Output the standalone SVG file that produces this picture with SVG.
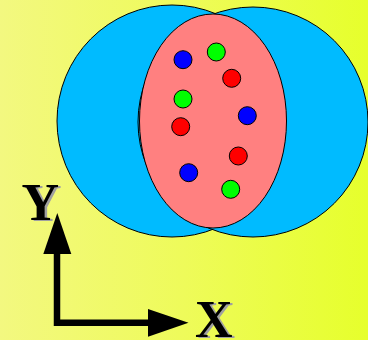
<svg xmlns="http://www.w3.org/2000/svg" width="368" height="340" viewBox="0 0 368 340">
<defs>
<linearGradient id="bg" x1="0" y1="0" x2="1" y2="0">
<stop offset="0" stop-color="#f3f880"/>
<stop offset="0.5" stop-color="#eefb5a"/>
<stop offset="1" stop-color="#e6ff2c"/>
</linearGradient>
<marker id="ah" viewBox="0 0 10 10" refX="0" refY="5" markerWidth="10" markerHeight="10" markerUnits="userSpaceOnUse" orient="auto" overflow="visible">
<path d="M0,-9 L40,5 L0,19 Z" fill="#000"/>
</marker>
</defs>
<style>
.blob{fill:#00bbff;stroke:#000;stroke-width:1}
.dot{stroke:#000;stroke-width:1}
.b{fill:#0000ff}.g{fill:#00ff00}.r{fill:#ff0000}
.lbl{font-family:"Liberation Serif",serif;font-weight:bold;font-size:52px}
</style>
<rect x="0" y="0" width="368" height="340" fill="url(#bg)"/>
<g id="circleLeft"><ellipse class="blob" cx="172" cy="121" rx="115" ry="116"/></g>
<g id="circleRight"><ellipse class="blob" cx="253" cy="122" rx="115" ry="115"/></g>
<g id="ellipseCenter"><ellipse cx="213" cy="121" rx="73.5" ry="107" fill="#ff8080" stroke="#000" stroke-width="1"/></g>
<g id="dots">
<circle class="dot b" cx="183" cy="59.7" r="9"/>
<circle class="dot g" cx="216.3" cy="52" r="9"/>
<circle class="dot r" cx="231.7" cy="78.3" r="9"/>
<circle class="dot g" cx="183" cy="99" r="9"/>
<circle class="dot b" cx="247.3" cy="115.7" r="9"/>
<circle class="dot r" cx="180.7" cy="126.7" r="9"/>
<circle class="dot r" cx="238.3" cy="156" r="9"/>
<circle class="dot b" cx="188.7" cy="172.7" r="9"/>
<circle class="dot g" cx="230.7" cy="189.3" r="9"/>
</g>
<g id="connectors">
<path d="M57,254 L57,322.7 L148,322.7" fill="none" stroke="#000" stroke-width="6.5"/>
<path d="M57.3,213 L43.3,254 L71.3,254 Z" fill="#000"/>
<path d="M188.5,322.7 L148,309 L148,336.7 Z" fill="#000"/>
</g>
<g id="labelY">
<text class="lbl" x="24" y="221" fill="#a0a0a0">Y</text>
<text class="lbl" x="21.5" y="219.5" fill="#000">Y</text>
</g>
<g id="labelX">
<text class="lbl" x="197.5" y="338" fill="#a0a0a0">X</text>
<text class="lbl" x="195" y="336.5" fill="#000">X</text>
</g>
</svg>
